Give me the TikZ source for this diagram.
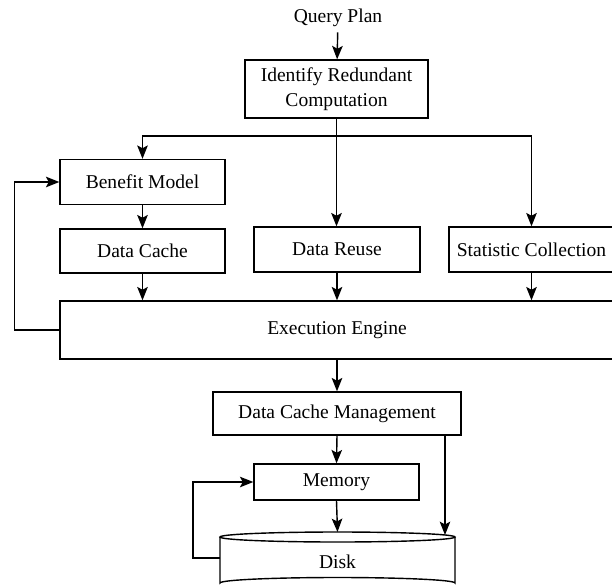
\documentclass[tikz,border=0pt]{standalone}
\usepackage{fontspec}
\setmainfont{Liberation Serif}
\usetikzlibrary{arrows.meta}

\begin{document}
\begin{tikzpicture}[x=0.025cm,y=-0.025cm,
    font=\fontsize{13.9}{17.7}\selectfont,
    line width=1pt,
    box/.style={draw,rectangle,inner sep=0pt,align=center},
    arr/.style={-{Stealth[length=9.5pt,width=7.5pt,inset=2pt]}}]
    \useasboundingbox (0,0) rectangle (612,586);
    % nodes
    \node (query) at (338,18) {Query Plan};
    \node[box,minimum width=183*0.025cm,minimum height=58*0.025cm] (identify) at (336.5,89) {Identify Redundant\\Computation};
    \node[box,minimum width=165*0.025cm,minimum height=45*0.025cm] (benefit) at (142.5,182) {Benefit Model};
    \node[box,minimum width=165*0.025cm,minimum height=44*0.025cm] (cache) at (142.5,251) {Data Cache};
    \node[box,minimum width=166*0.025cm,minimum height=45*0.025cm] (reuse) at (337,249.5) {Data Reuse};
    \node[box,minimum width=165*0.025cm,minimum height=45*0.025cm] (stat) at (531.5,249.5) {Statistic Collection};
    \node[box,minimum width=554*0.025cm,minimum height=58*0.025cm] (exec) at (337,330) {Execution Engine};
    \node[box,minimum width=248*0.025cm,minimum height=43*0.025cm] (dcm) at (337,413.5) {Data Cache Management};
    \node[box,minimum width=165*0.025cm,minimum height=36*0.025cm] (memory) at (336.5,482) {Memory};
    % disk
    \draw[fill=white] (220,537) -- (220,583) arc (180:360:117.5 and 5.5) -- (455,537);
    \draw (337.5,537) ellipse (117.5 and 5);
    \node (disk) at (337.5,562) {Disk};
    \coordinate (diskT) at (337.5,532);
    \coordinate (diskR) at (445,535);
    \coordinate (diskW) at (220,558);
    % connectors
    \draw[arr] (query) -- (identify);
    \draw[arr] (identify.south) -- (identify.south |- reuse.north);
    \coordinate (split) at (identify.south |- 0,136);
    \draw[arr] (split) -| (benefit.north);
    \draw[arr] (split) -| (stat.north);
    \draw[arr] (benefit) -- (cache);
    \draw[arr] (cache.south) -- (cache.south |- exec.north);
    \draw[arr] (reuse.south) -- (reuse.south |- exec.north);
    \draw[arr] (stat.south) -- (stat.south |- exec.north);
    \draw[arr] (exec.west) -- ++(-45,0) |- (benefit.west);
    \draw[arr] (dcm.north |- exec.south) -- (dcm.north);
    \draw[arr] (dcm.south) -- (memory.north);
    \draw[arr] (memory.south) -- (diskT);
    \draw[arr] (diskR |- dcm.south) -- (diskR);
    \draw[arr] (diskW) -- ++(-27,0) |- (memory.west);
\end{tikzpicture}
\end{document}
